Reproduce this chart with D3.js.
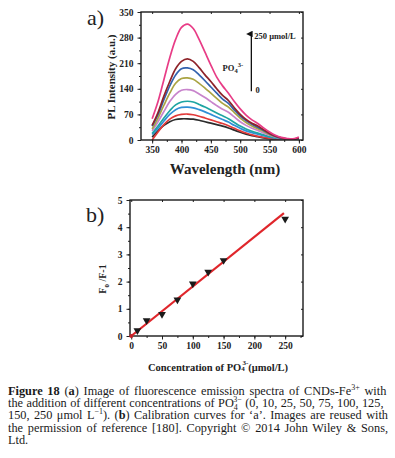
<!DOCTYPE html>
<html>
<head>
<meta charset="utf-8">
<script src="https://cdnjs.cloudflare.com/ajax/libs/d3/7.8.5/d3.min.js"></script>
<style>
  html, body { margin: 0; padding: 0; background: #fff; }
  svg { display: block; }
  text { font-family: "Liberation Serif", "Times New Roman", serif; }
</style>
</head>
<body>
<div id="chart"></div>
<script>
// ---- data ----
const wavelengths = [350,360,370,380,390,400,410,420,430,440,450,460,470,480,490,500,510,520,530,540,550,560,570,580,590,600];
const concentrations = [0, 10, 25, 50, 75, 100, 125, 150, 250];

const pl0   = [8,25,40,50,56,58,58,57,54,50,46,42,38,33,27,21,16,12,9,6,4,3,2,1,1,3];
const pl10  = [0,22,42,57,66,70,71,69,65,60,55,50,45,39,32,25,19,14,10,7,5,3,2,1,1,3];
const pl25  = [15,32,52,70,83,89,90,88,83,77,70,63,56,49,40,32,25,20,16,12,8,5,3,1,1,3];
const pl50  = [18,38,60,80,96,104,106,104,97,90,82,74,66,58,48,38,30,24,19,14,9,6,3,2,1,4];
const pl75  = [25,50,78,105,125,136,138,135,126,116,105,94,84,76,63,50,40,32,26,19,13,8,4,2,2,4];
const pl100 = [30,60,95,128,155,168,170,166,155,142,128,114,100,90,75,60,48,38,31,23,15,9,5,2,2,5];
const pl125 = [38,70,110,148,178,195,197,192,178,162,145,128,112,100,82,66,53,43,35,26,17,10,5,3,2,5];
const pl150 = [40,75,120,160,195,215,222,215,198,178,160,140,122,108,88,70,56,46,38,28,18,11,6,3,2,6];
const pl250 = [58,105,165,225,275,308,317,305,275,240,205,172,148,128,105,85,68,55,45,33,22,13,7,4,3,8];
const spectra = [pl0, pl10, pl25, pl50, pl75, pl100, pl125, pl150, pl250];

const plTicks = [0, 70, 140, 210, 280, 350];
const wlTicks = [350, 400, 450, 500, 550, 600];

const calX = [10, 25, 50, 75, 100, 125, 150, 250];
const calY = [0.2, 0.57, 0.8, 1.33, 1.92, 2.35, 2.78, 4.3];
const fitX = [0, 248];
const fitY = [0, 4.52];
const concTicks = [0, 50, 100, 150, 200, 250];
const ratioTicks = [0, 1, 2, 3, 4, 5];

const lineColors = ['#2b2b2b', '#e23a3a', '#2f8fd6', '#1ea5a2', '#c884cc', '#aaa443', '#3262ad', '#8e2329', '#e83c86'];

// ---- page ----
const W = 395, H = 458;
const svg = d3.select('#chart').append('svg').attr('width', W).attr('height', H);

function frameAxes(g, x, y, xt, yt, xMinor, yMinor) {
	const [x0, x1] = x.range();
	const [y0, y1] = y.range();
	const fmt = d3.format('d');
	g.append('g')
		.attr('transform', 'translate(0,' + y0 + ')')
		.call(d3.axisBottom(x).tickValues(xMinor).tickSize(2).tickFormat(''))
		.call(a => a.select('.domain').remove());
	g.append('g')
		.attr('transform', 'translate(0,' + y0 + ')')
		.call(d3.axisBottom(x).tickValues(xt).tickSize(3.5).tickPadding(3).tickFormat(fmt))
		.call(a => a.select('.domain').remove());
	g.append('g')
		.attr('transform', 'translate(' + x0 + ',0)')
		.call(d3.axisLeft(y).tickValues(yMinor).tickSize(2).tickFormat(''))
		.call(a => a.select('.domain').remove());
	g.append('g')
		.attr('transform', 'translate(' + x0 + ',0)')
		.call(d3.axisLeft(y).tickValues(yt).tickSize(3.5).tickPadding(4).tickFormat(fmt))
		.call(a => a.select('.domain').remove());
	// small inward ticks on top and right
	g.append('g')
		.attr('transform', 'translate(0,' + y1 + ')')
		.call(d3.axisBottom(x).tickValues(xt).tickSize(2).tickFormat(''))
		.call(a => a.select('.domain').remove());
	g.append('g')
		.attr('transform', 'translate(' + x1 + ',0)')
		.call(d3.axisLeft(y).tickValues(yt).tickSize(2).tickFormat(''))
		.call(a => a.select('.domain').remove());
	g.selectAll('.tick text')
		.attr('font-weight', 'bold')
		.attr('font-size', 9.5)
		.attr('fill', '#222');
	g.selectAll('.tick line').attr('stroke', '#222');
	g.append('rect')
		.attr('x', x0).attr('y', y1)
		.attr('width', x1 - x0).attr('height', y0 - y1)
		.attr('fill', 'none').attr('stroke', '#1a1a1a').attr('stroke-width', 1.4);
}

// ---- panel a: emission spectra ----
const xa = d3.scaleLinear().domain([331, 607]).range([141, 303]);
const ya = d3.scaleLinear().domain([0, 350]).range([140, 12]);
const ga = svg.append('g');

ga.append('clipPath').attr('id', 'clipA')
	.append('rect').attr('x', 141).attr('y', 12).attr('width', 162).attr('height', 128);

const line = d3.line()
	.x((d, i) => xa(wavelengths[i]))
	.y(d => ya(d))
	.curve(d3.curveCatmullRom.alpha(0.5));

ga.append('g').attr('clip-path', 'url(#clipA)')
	.selectAll('path')
	.data(spectra)
	.enter().append('path')
	.attr('fill', 'none')
	.attr('stroke', (d, i) => lineColors[i])
	.attr('stroke-width', 1.7)
	.attr('stroke-linejoin', 'round')
	.attr('d', line);

frameAxes(ga, xa, ya, wlTicks, plTicks, d3.range(350, 601, 25), d3.range(0, 351, 35));

// arrow annotation
ga.append('defs').append('marker')
	.attr('id', 'arrowHead').attr('viewBox', '0 0 10 10')
	.attr('refX', 5).attr('refY', 8)
	.attr('markerWidth', 5).attr('markerHeight', 6)
	.attr('orient', 'auto-start-reverse')
	.append('path').attr('d', 'M0,10 L5,0 L10,10 Z').attr('fill', '#111');

ga.append('line')
	.attr('x1', xa(519)).attr('x2', xa(519))
	.attr('y1', ya(133)).attr('y2', ya(290))
	.attr('stroke', '#111').attr('stroke-width', 1.3)
	.attr('marker-end', 'url(#arrowHead)');

ga.append('text')
	.attr('x', xa(524)).attr('y', ya(277))
	.attr('font-size', 8.5).attr('font-weight', 'bold').attr('fill', '#222')
	.text('250 μmol/L');
ga.append('text')
	.attr('x', xa(526)).attr('y', ya(129))
	.attr('font-size', 8.5).attr('font-weight', 'bold').attr('fill', '#222')
	.text(concentrations[0]);
const po = ga.append('text')
	.attr('x', xa(470)).attr('y', ya(190))
	.attr('font-size', 8.5).attr('font-weight', 'bold').attr('fill', '#222');
po.append('tspan').text('PO');
po.append('tspan').attr('font-size', 6.5).attr('dy', 2).text('4');
po.append('tspan').attr('font-size', 6.5).attr('dy', -6).text('3-');

ga.append('text')
	.attr('x', 225).attr('y', 174)
	.attr('text-anchor', 'middle')
	.attr('font-size', 15).attr('font-weight', 'bold').attr('fill', '#222')
	.text('Wavelength (nm)');

ga.append('text')
	.attr('transform', 'translate(115,77) rotate(-90)')
	.attr('text-anchor', 'middle')
	.attr('font-size', 11).attr('font-weight', 'bold').attr('fill', '#222')
	.text('PL Intensity (a.u.)');

ga.append('text')
	.attr('x', 87).attr('y', 25)
	.attr('font-size', 22).attr('fill', '#222')
	.text('a)');

// ---- panel b: calibration ----
const xb = d3.scaleLinear().domain([-2, 279]).range([130, 303]);
const yb = d3.scaleLinear().domain([0, 5]).range([336, 200]);
const gb = svg.append('g');

frameAxes(gb, xb, yb, concTicks, ratioTicks, d3.range(0, 276, 25), d3.range(0, 5.01, 0.5));

gb.append('path')
	.datum(fitX.map((v, i) => [v, fitY[i]]))
	.attr('fill', 'none')
	.attr('stroke', '#e0262b')
	.attr('stroke-width', 2.2)
	.attr('d', d3.line().x(d => xb(d[0])).y(d => yb(d[1])));

gb.selectAll('path.pt')
	.data(calX.map((v, i) => [v, calY[i]]))
	.enter().append('path')
	.attr('class', 'pt')
	.attr('transform', d => 'translate(' + xb(d[0]) + ',' + yb(d[1]) + ') rotate(180)')
	.attr('d', d3.symbol(d3.symbolTriangle, 26))
	.attr('fill', '#1a1a1a');

gb.append('circle')
	.attr('cx', xb(fitX[0])).attr('cy', yb(fitY[0]))
	.attr('r', 2).attr('fill', '#c42228');

const cx = gb.append('text')
	.attr('x', 218).attr('y', 371)
	.attr('text-anchor', 'middle')
	.attr('font-size', 10.5).attr('font-weight', 'bold').attr('fill', '#222');
cx.append('tspan').text('Concentration of PO');
cx.append('tspan').attr('font-size', 7).attr('dy', 0).text('4 ');
cx.append('tspan').attr('font-size', 7).attr('dy', -6).attr('dx', -4).text('3-');
cx.append('tspan').attr('dy', 6).text('(μmol/L)');

const fy = gb.append('text')
	.attr('transform', 'translate(106,279) rotate(-90)')
	.attr('text-anchor', 'middle')
	.attr('font-size', 10).attr('font-weight', 'bold').attr('fill', '#222');
fy.append('tspan').text('F');
fy.append('tspan').attr('font-size', 7).attr('dy', 2.5).text('0');
fy.append('tspan').attr('dy', -2.5).text(' /F-1');

gb.append('text')
	.attr('x', 86).attr('y', 222)
	.attr('font-size', 22).attr('fill', '#222')
	.text('b)');

// ---- caption ----
const capLines = [
	[['b', 'Figure 18'], ['n', '  ('], ['b', 'a'], ['n', ') Image of fluorescence emission spectra of CNDs-Fe'], ['sup', '3+'], ['n', ' with']],
	[['n', 'the addition of different concentrations of PO'], ['sub', '4'], ['supb', '3−'], ['n', ' (0, 10, 25, 50, 75, 100, 125,']],
	[['n', '150, 250 μmol L'], ['sup', '−1'], ['n', '). ('], ['b', 'b'], ['n', ') Calibration curves for ‘a’. Images are reused with']],
	[['n', 'the permission of reference [180]. Copyright © 2014 John Wiley & Sons,']],
	[['n', 'Ltd.']]
];
const capLeft = 8, capRight = 388, capTop = 395, capStep = 12.2;

capLines.forEach((parts, li) => {
	const t = svg.append('text')
		.attr('x', capLeft).attr('y', capTop + li * capStep)
		.attr('font-size', 12.3).attr('fill', '#1a1a1a');
	parts.forEach(p => {
		const s = t.append('tspan').text(p[1]);
		if (p[0] === 'b') s.attr('font-weight', 'bold');
		if (p[0] === 'sup') s.attr('font-size', 8).attr('baseline-shift', '5');
		if (p[0] === 'sub') s.attr('font-size', 8).attr('baseline-shift', '-3');
		if (p[0] === 'supb') s.attr('font-size', 8).attr('dx', -4.5).attr('baseline-shift', '5');
	});
	if (li < capLines.length - 1) {
		const natural = t.node().getComputedTextLength();
		const spaces = parts.map(p => p[1]).join('').split(' ').length - 1;
		t.attr('word-spacing', (capRight - capLeft - natural) / spaces);
	}
});
</script>
</body>
</html>
